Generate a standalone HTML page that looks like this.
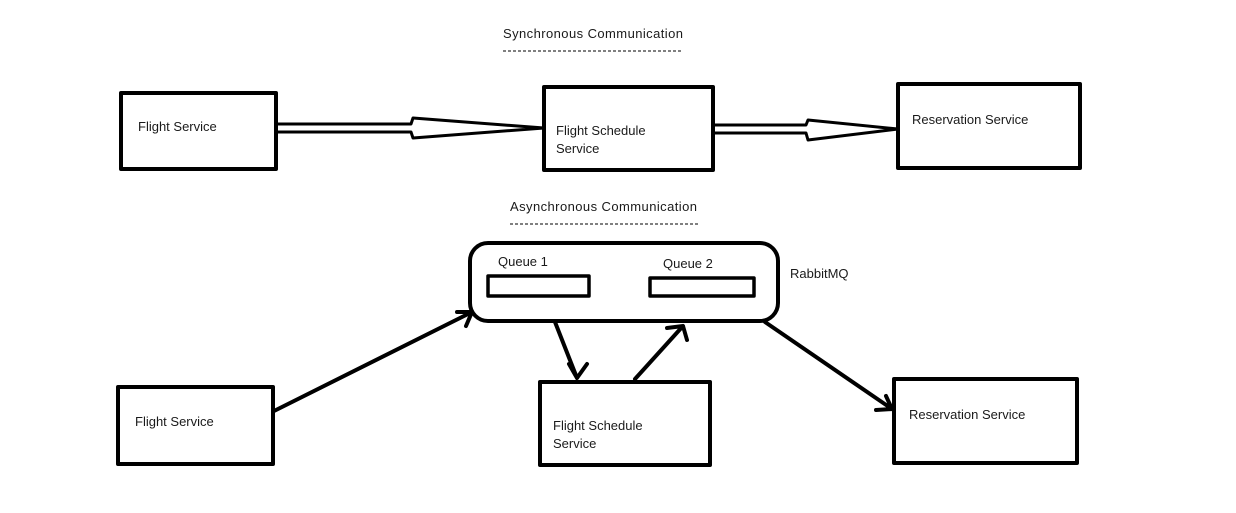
<!DOCTYPE html>
<html><head><style>html,body{margin:0;padding:0;background:#fff;}svg{display:block}</style></head>
<body>
<svg width="1236" height="513" viewBox="0 0 1236 513" xmlns="http://www.w3.org/2000/svg" font-family="Liberation Sans, sans-serif" font-size="13" fill="#1a1a1a">
<rect width="1236" height="513" fill="#fff"/>
<g fill="none" stroke="#000" stroke-width="4" stroke-linejoin="round" stroke-linecap="round">
<rect x="121" y="93" width="155" height="76"/>
<rect x="544" y="87" width="169" height="83"/>
<rect x="898" y="84" width="182" height="84"/>
<rect x="118" y="387" width="155" height="77"/>
<rect x="540" y="382" width="170" height="83"/>
<rect x="894" y="379" width="183" height="84"/>
<rect x="470" y="243" width="308" height="78" rx="18"/>
<rect x="488" y="276" width="101" height="20" stroke-width="3.5"/>
<rect x="650" y="278" width="104" height="18" stroke-width="3.5"/>
<path d="M277 124 L411 124 L413 118 L544 128 L413 138 L411 132 L277 132" stroke-width="3"/>
<path d="M713 125 L806 125 L808 120 L898 129 L808 140 L806 133 L713 133" stroke-width="3"/>
<path d="M274 411 L472 312 M457 312 L472 312 L466 326"/>
<path d="M555 322 L577 378 M569 364 L577 378 L587 364"/>
<path d="M635 379 L683 326 M667 328 L683 326 L687 340"/>
<path d="M765 322 L892 409 M876 410 L892 409 L886 396"/>
</g>
<g stroke="#000" stroke-width="1" stroke-dasharray="3,2">
<line x1="503" y1="51" x2="682" y2="51"/>
<line x1="510" y1="224" x2="698" y2="224"/>
</g>
<text x="503" y="38" textLength="180">Synchronous Communication</text>
<text x="510" y="211" textLength="187">Asynchronous Communication</text>
<text x="138" y="131">Flight Service</text>
<text x="556" y="135">Flight Schedule</text>
<text x="556" y="153">Service</text>
<text x="912" y="124">Reservation Service</text>
<text x="135" y="426">Flight Service</text>
<text x="553" y="430">Flight Schedule</text>
<text x="553" y="448">Service</text>
<text x="909" y="419">Reservation Service</text>
<text x="498" y="266">Queue 1</text>
<text x="663" y="268">Queue 2</text>
<text x="790" y="278">RabbitMQ</text>
</svg>
</body></html>
